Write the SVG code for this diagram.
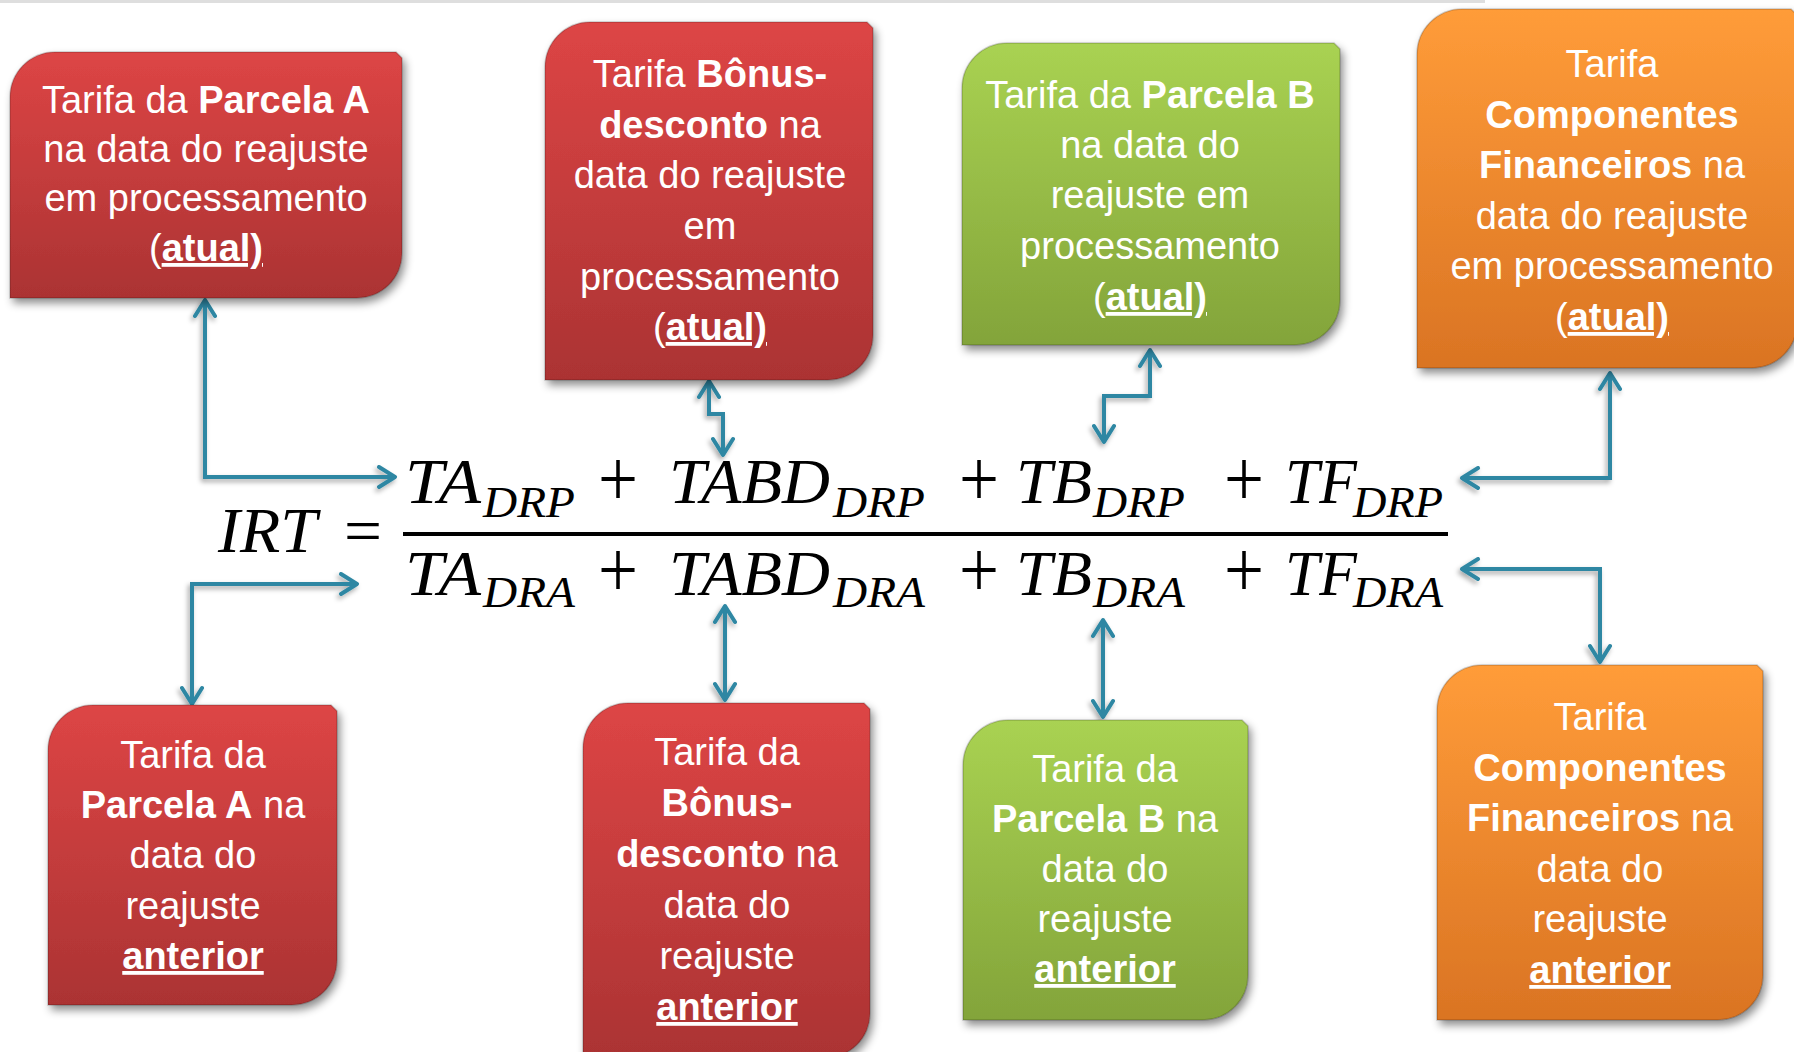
<svg xmlns="http://www.w3.org/2000/svg" width="1794" height="1052" viewBox="0 0 1794 1052">
<defs>
  <linearGradient id="gRed" x1="0" y1="0" x2="0" y2="1">
    <stop offset="0" stop-color="#DD4545"/>
    <stop offset="1" stop-color="#AB3333"/>
  </linearGradient>
  <linearGradient id="gGreen" x1="0" y1="0" x2="0" y2="1">
    <stop offset="0" stop-color="#A9D252"/>
    <stop offset="1" stop-color="#83A43A"/>
  </linearGradient>
  <linearGradient id="gOrange" x1="0" y1="0" x2="0" y2="1">
    <stop offset="0" stop-color="#FF9C39"/>
    <stop offset="1" stop-color="#DA7423"/>
  </linearGradient>
  <filter id="boxShadow" x="-10%" y="-10%" width="130%" height="130%">
    <feDropShadow dx="3" dy="5" stdDeviation="4" flood-color="#000" flood-opacity="0.45"/>
  </filter>
  <filter id="lineShadow" filterUnits="userSpaceOnUse" x="0" y="0" width="1794" height="1052">
    <feDropShadow dx="-2" dy="3" stdDeviation="2.5" flood-color="#000" flood-opacity="0.35"/>
  </filter>
  <marker id="chev" viewBox="0 -12 22 24" refX="19" refY="0" markerWidth="22" markerHeight="24" markerUnits="userSpaceOnUse" orient="auto-start-reverse">
    <path d="M3,-10 L19,0 L3,10" fill="none" stroke="#2E87A3" stroke-width="4" stroke-linecap="round" stroke-linejoin="round"/>
  </marker>
  <style>
    .box { stroke: rgba(0,0,0,0.18); stroke-width: 1.5; filter: url(#boxShadow); }
    .red { fill: url(#gRed); }
    .green { fill: url(#gGreen); }
    .orange { fill: url(#gOrange); }
    .lbl { font-family: "Liberation Sans", Arial, sans-serif; font-size: 38px; fill: #FFFFFF; text-anchor: middle; }
    .b { font-weight: bold; }
    .u { text-decoration: underline; }
    .conn { fill: none; stroke: #2E87A3; stroke-width: 4; stroke-linejoin: miter; marker-start: url(#chev); marker-end: url(#chev); }
    .eq { font-family: "Liberation Serif", "Times New Roman", serif; font-style: italic; fill: #000; }
    .big { font-size: 64px; }
    .sub { font-size: 44px; }
    .op { font-family: "Liberation Serif", "Times New Roman", serif; font-style: normal; font-size: 64px; fill: #000; }
    .plus { font-family: "Liberation Serif", "Times New Roman", serif; font-style: normal; font-size: 80px; fill: #000; }
  </style>
</defs>
<rect x="0" y="0" width="1794" height="1052" fill="#FFFFFF"/>
<rect x="0" y="0" width="1485" height="3" fill="#D6D6D6" opacity="0.8"/>

<g id="connectors" filter="url(#lineShadow)">
  <path class="conn" d="M205,300 L205,477 L395,477"/>
  <path class="conn" d="M709,381 L709,414 L723,414 L723,455"/>
  <path class="conn" d="M1150,350 L1150,396 L1104,396 L1104,442"/>
  <path class="conn" d="M1610,373 L1610,478 L1462,478"/>
  <path class="conn" d="M357,584 L192,584 L192,704"/>
  <path class="conn" d="M725,606 L725,700"/>
  <path class="conn" d="M1103,620 L1103,717"/>
  <path class="conn" d="M1462,569 L1600,569 L1600,662"/>
</g>

<g id="box-ta-atual">
  <path class="box red" d="M10,97 A45,45 0 0 1 55,52 L396,52 L402,58 L402,253 A45,45 0 0 1 357,298 L10,298 Z"/>
  <text class="lbl" x="206" y="113">Tarifa da <tspan class="b">Parcela A</tspan></text>
  <text class="lbl" x="206" y="162">na data do reajuste</text>
  <text class="lbl" x="206" y="211">em processamento</text>
  <text class="lbl" x="206" y="261">(<tspan class="b u">atual)</tspan></text>
</g>

<g id="box-tabd-atual">
  <path class="box red" d="M545,67 A45,45 0 0 1 590,22 L867,22 L873,28 L873,335 A45,45 0 0 1 828,380 L545,380 Z"/>
  <text class="lbl" x="710" y="87">Tarifa <tspan class="b">Bônus-</tspan></text>
  <text class="lbl" x="710" y="138"><tspan class="b">desconto</tspan> na</text>
  <text class="lbl" x="710" y="188">data do reajuste</text>
  <text class="lbl" x="710" y="239">em</text>
  <text class="lbl" x="710" y="290">processamento</text>
  <text class="lbl" x="710" y="340">(<tspan class="b u">atual)</tspan></text>
</g>

<g id="box-tb-atual">
  <path class="box green" d="M962,88 A45,45 0 0 1 1007,43 L1334,43 L1340,49 L1340,300 A45,45 0 0 1 1295,345 L962,345 Z"/>
  <text class="lbl" x="1150" y="108">Tarifa da <tspan class="b">Parcela B</tspan></text>
  <text class="lbl" x="1150" y="158">na data do</text>
  <text class="lbl" x="1150" y="208">reajuste em</text>
  <text class="lbl" x="1150" y="259">processamento</text>
  <text class="lbl" x="1150" y="310">(<tspan class="b u">atual)</tspan></text>
</g>

<g id="box-tf-atual">
  <path class="box orange" d="M1417,54 A45,45 0 0 1 1462,9 L1791,9 L1797,15 L1797,323 A45,45 0 0 1 1752,368 L1417,368 Z"/>
  <text class="lbl" x="1612" y="77">Tarifa</text>
  <text class="lbl" x="1612" y="128"><tspan class="b">Componentes</tspan></text>
  <text class="lbl" x="1612" y="178"><tspan class="b">Financeiros</tspan> na</text>
  <text class="lbl" x="1612" y="229">data do reajuste</text>
  <text class="lbl" x="1612" y="279">em processamento</text>
  <text class="lbl" x="1612" y="330">(<tspan class="b u">atual)</tspan></text>
</g>

<g id="box-ta-anterior">
  <path class="box red" d="M48,750 A45,45 0 0 1 93,705 L331,705 L337,711 L337,960 A45,45 0 0 1 292,1005 L48,1005 Z"/>
  <text class="lbl" x="193" y="768">Tarifa da</text>
  <text class="lbl" x="193" y="818"><tspan class="b">Parcela A</tspan> na</text>
  <text class="lbl" x="193" y="868">data do</text>
  <text class="lbl" x="193" y="919">reajuste</text>
  <text class="lbl" x="193" y="969"><tspan class="b u">anterior</tspan></text>
</g>

<g id="box-tabd-anterior">
  <path class="box red" d="M583,748 A45,45 0 0 1 628,703 L864,703 L870,709 L870,1013 A45,45 0 0 1 825,1058 L583,1058 Z"/>
  <text class="lbl" x="727" y="765">Tarifa da</text>
  <text class="lbl" x="727" y="816"><tspan class="b">Bônus-</tspan></text>
  <text class="lbl" x="727" y="867"><tspan class="b">desconto</tspan> na</text>
  <text class="lbl" x="727" y="918">data do</text>
  <text class="lbl" x="727" y="969">reajuste</text>
  <text class="lbl" x="727" y="1020"><tspan class="b u">anterior</tspan></text>
</g>

<g id="box-tb-anterior">
  <path class="box green" d="M963,765 A45,45 0 0 1 1008,720 L1242,720 L1248,726 L1248,975 A45,45 0 0 1 1203,1020 L963,1020 Z"/>
  <text class="lbl" x="1105" y="782">Tarifa da</text>
  <text class="lbl" x="1105" y="832"><tspan class="b">Parcela B</tspan> na</text>
  <text class="lbl" x="1105" y="882">data do</text>
  <text class="lbl" x="1105" y="932">reajuste</text>
  <text class="lbl" x="1105" y="982"><tspan class="b u">anterior</tspan></text>
</g>

<g id="box-tf-anterior">
  <path class="box orange" d="M1437,710 A45,45 0 0 1 1482,665 L1757,665 L1763,671 L1763,975 A45,45 0 0 1 1718,1020 L1437,1020 Z"/>
  <text class="lbl" x="1600" y="730">Tarifa</text>
  <text class="lbl" x="1600" y="781"><tspan class="b">Componentes</tspan></text>
  <text class="lbl" x="1600" y="831"><tspan class="b">Financeiros</tspan> na</text>
  <text class="lbl" x="1600" y="882">data do</text>
  <text class="lbl" x="1600" y="932">reajuste</text>
  <text class="lbl" x="1600" y="983"><tspan class="b u">anterior</tspan></text>
</g>

<g id="formula">
  <text class="eq big" x="218" y="552" textLength="99" lengthAdjust="spacingAndGlyphs">IRT</text>
  <text class="op" x="344" y="552" textLength="38" lengthAdjust="spacingAndGlyphs">=</text>
  <rect x="403" y="532" width="1045" height="4" fill="#000"/>
  <!-- numerator -->
  <text class="eq big" x="405" y="503" textLength="76" lengthAdjust="spacingAndGlyphs">TA</text>
  <text class="eq sub" x="483" y="517" textLength="92" lengthAdjust="spacingAndGlyphs">DRP</text>
  <text class="plus" x="598" y="506" textLength="40" lengthAdjust="spacingAndGlyphs">+</text>
  <text class="eq big" x="669" y="503" textLength="161" lengthAdjust="spacingAndGlyphs">TABD</text>
  <text class="eq sub" x="833" y="517" textLength="92" lengthAdjust="spacingAndGlyphs">DRP</text>
  <text class="plus" x="959" y="506" textLength="40" lengthAdjust="spacingAndGlyphs">+</text>
  <text class="eq big" x="1016" y="503" textLength="76" lengthAdjust="spacingAndGlyphs">TB</text>
  <text class="eq sub" x="1093" y="517" textLength="92" lengthAdjust="spacingAndGlyphs">DRP</text>
  <text class="plus" x="1224" y="506" textLength="40" lengthAdjust="spacingAndGlyphs">+</text>
  <text class="eq big" x="1285" y="503" textLength="72" lengthAdjust="spacingAndGlyphs">TF</text>
  <text class="eq sub" x="1353" y="517" textLength="90" lengthAdjust="spacingAndGlyphs">DRP</text>
  <!-- denominator -->
  <text class="eq big" x="405" y="595" textLength="76" lengthAdjust="spacingAndGlyphs">TA</text>
  <text class="eq sub" x="483" y="607" textLength="92" lengthAdjust="spacingAndGlyphs">DRA</text>
  <text class="plus" x="598" y="597" textLength="40" lengthAdjust="spacingAndGlyphs">+</text>
  <text class="eq big" x="669" y="595" textLength="161" lengthAdjust="spacingAndGlyphs">TABD</text>
  <text class="eq sub" x="833" y="607" textLength="92" lengthAdjust="spacingAndGlyphs">DRA</text>
  <text class="plus" x="959" y="597" textLength="40" lengthAdjust="spacingAndGlyphs">+</text>
  <text class="eq big" x="1016" y="595" textLength="76" lengthAdjust="spacingAndGlyphs">TB</text>
  <text class="eq sub" x="1093" y="607" textLength="92" lengthAdjust="spacingAndGlyphs">DRA</text>
  <text class="plus" x="1224" y="597" textLength="40" lengthAdjust="spacingAndGlyphs">+</text>
  <text class="eq big" x="1285" y="595" textLength="72" lengthAdjust="spacingAndGlyphs">TF</text>
  <text class="eq sub" x="1353" y="607" textLength="90" lengthAdjust="spacingAndGlyphs">DRA</text>
</g>
</svg>
